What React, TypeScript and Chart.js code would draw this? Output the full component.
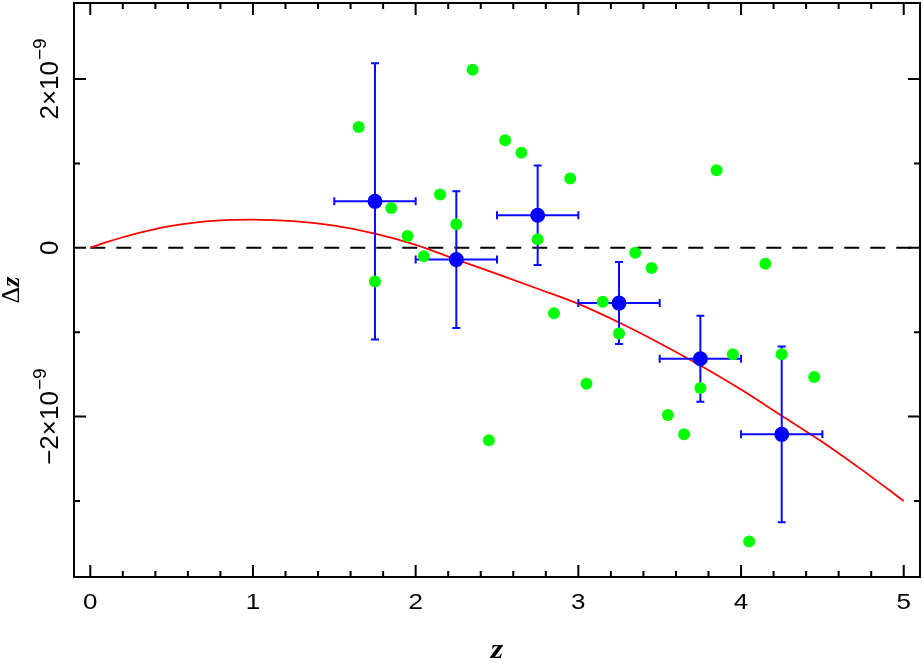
import React, { useEffect, useRef } from 'react';
import { Chart, registerables } from 'chart.js';

Chart.register(...registerables);

// Individual measurements (z, Δz in units of 1e-9)
const greenZ = [1.65, 1.75, 1.85, 1.95, 2.05, 2.15, 2.25, 2.35, 2.45, 2.55, 2.65, 2.75, 2.85, 2.95, 3.05, 3.15, 3.25, 3.35, 3.45, 3.55, 3.65, 3.75, 3.85, 3.95, 4.05, 4.15, 4.25, 4.45];
const greenDz = [1.43, -0.4, 0.47, 0.14, -0.1, 0.63, 0.28, 2.11, -2.28, 1.275, 1.125, 0.1, -0.775, 0.82, -1.61, -0.64, -1.015, -0.06, -0.24, -1.98, -2.21, -1.66, 0.92, -1.26, -3.48, -0.19, -1.26, -1.53];

// Binned averages with error bars
const binZ = [1.75, 2.25, 2.75, 3.25, 3.75, 4.25];
const binDz = [0.55, -0.14, 0.385, -0.655, -1.315, -2.21];
const binDzErr = [1.635, 0.81, 0.59, 0.486, 0.51, 1.04];
const binZErr = [0.25, 0.25, 0.25, 0.25, 0.25, 0.25];

// Model curve
const curveZ = [0, 0.1, 0.2, 0.3, 0.4, 0.5, 0.75, 1, 1.25, 1.5, 1.75, 2, 2.25, 2.5, 2.75, 3, 3.25, 3.5, 3.75, 4, 4.25, 4.5, 4.75, 5];
const curveDz = [0, 0.066, 0.125, 0.177, 0.222, 0.259, 0.318, 0.334, 0.315, 0.262, 0.168, 0.035, -0.139, -0.31, -0.485, -0.665, -0.885, -1.13, -1.395, -1.68, -1.99, -2.3, -2.64, -3.0];

// Zero reference line
const zeroZ = [0, 5.1];
const zeroDz = [0, 0];

// Axes
const xMin = -0.1;
const xMax = 5.1;
const yMin = -3.9;
const yMax = 2.9;
const xMajorTicks = [0, 1, 2, 3, 4, 5];
const xTickLabels = ['0', '1', '2', '3', '4', '5'];
const xMinorTicks = [0.2, 0.4, 0.6, 0.8, 1.2, 1.4, 1.6, 1.8, 2.2, 2.4, 2.6, 2.8, 3.2, 3.4, 3.6, 3.8, 4.2, 4.4, 4.6, 4.8];
const yMajorTicks = [-2, 0, 2];
const yTickBases = ['\u22122\u00d710', '0', '2\u00d710'];
const yTickExps = ['\u22129', '', '\u22129'];
const yMinorTicks = [-3, -1, 1];
const xTitle = 'z';
const yTitleA = '\u0394';
const yTitleB = 'z';

const toXY = (xs: number[], ys: number[]) => xs.map((x, i) => ({ x, y: ys[i] }));

const decorPlugin = {
  id: 'decor',
  beforeDatasetDraw(chart: any, args: any) {
    if (args.index !== 1) return;
    const { ctx } = chart;
    const xs = chart.scales.x;
    const ys = chart.scales.y;
    const cap = 4;
    ctx.save();
    ctx.strokeStyle = '#0a0aff';
    ctx.lineWidth = 2;
    binZ.forEach((z, i) => {
      const px = xs.getPixelForValue(z);
      const py = ys.getPixelForValue(binDz[i]);
      const yTop = ys.getPixelForValue(binDz[i] + binDzErr[i]);
      const yBot = ys.getPixelForValue(binDz[i] - binDzErr[i]);
      const xL = xs.getPixelForValue(z - binZErr[i]);
      const xR = xs.getPixelForValue(z + binZErr[i]);
      ctx.beginPath();
      ctx.moveTo(px, yTop); ctx.lineTo(px, yBot);
      ctx.moveTo(px - cap, yTop); ctx.lineTo(px + cap, yTop);
      ctx.moveTo(px - cap, yBot); ctx.lineTo(px + cap, yBot);
      ctx.moveTo(xL, py); ctx.lineTo(xR, py);
      ctx.moveTo(xL, py - cap); ctx.lineTo(xL, py + cap);
      ctx.moveTo(xR, py - cap); ctx.lineTo(xR, py + cap);
      ctx.stroke();
    });
    ctx.restore();
  },
  afterDraw(chart: any) {
    const { ctx, chartArea: a } = chart;
    const xs = chart.scales.x;
    const ys = chart.scales.y;
    ctx.save();
    ctx.strokeStyle = '#000';
    ctx.lineWidth = 2;
    ctx.strokeRect(a.left, a.top, a.right - a.left, a.bottom - a.top);
    ctx.beginPath();
    const major = 12;
    const minor = 6;
    xMajorTicks.forEach((v) => {
      const p = xs.getPixelForValue(v);
      ctx.moveTo(p, a.bottom); ctx.lineTo(p, a.bottom - major);
      ctx.moveTo(p, a.top); ctx.lineTo(p, a.top + major);
    });
    xMinorTicks.forEach((v) => {
      const p = xs.getPixelForValue(v);
      ctx.moveTo(p, a.bottom); ctx.lineTo(p, a.bottom - minor);
      ctx.moveTo(p, a.top); ctx.lineTo(p, a.top + minor);
    });
    yMajorTicks.forEach((v) => {
      const p = ys.getPixelForValue(v);
      ctx.moveTo(a.left, p); ctx.lineTo(a.left + major, p);
      ctx.moveTo(a.right, p); ctx.lineTo(a.right - major, p);
    });
    yMinorTicks.forEach((v) => {
      const p = ys.getPixelForValue(v);
      ctx.moveTo(a.left, p); ctx.lineTo(a.left + minor, p);
      ctx.moveTo(a.right, p); ctx.lineTo(a.right - minor, p);
    });
    ctx.stroke();

    ctx.fillStyle = '#000';
    // x tick labels
    ctx.font = '26px "Liberation Sans", Arial, sans-serif';
    ctx.textAlign = 'center';
    ctx.textBaseline = 'alphabetic';
    xMajorTicks.forEach((v, i) => {
      const p = xs.getPixelForValue(v);
      ctx.save();
      ctx.translate(p, 609);
      ctx.scale(1, 0.84);
      ctx.fillText(xTickLabels[i], 0, 0);
      ctx.restore();
    });
    // y tick labels (rotated)
    yMajorTicks.forEach((v, i) => {
      const p = ys.getPixelForValue(v);
      ctx.save();
      ctx.translate(58, p);
      ctx.rotate(-Math.PI / 2);
      ctx.textAlign = 'left';
      ctx.font = '26px "Liberation Sans", Arial, sans-serif';
      const wb = ctx.measureText(yTickBases[i]).width;
      ctx.font = '19px "Liberation Sans", Arial, sans-serif';
      const we = yTickExps[i] ? ctx.measureText(yTickExps[i]).width + 1 : 0;
      const start = -(wb + we) / 2;
      ctx.font = '26px "Liberation Sans", Arial, sans-serif';
      ctx.fillText(yTickBases[i], start, 0);
      if (yTickExps[i]) {
        ctx.font = '19px "Liberation Sans", Arial, sans-serif';
        ctx.fillText(yTickExps[i], start + wb + 1, -12);
      }
      ctx.restore();
    });
    // y title
    ctx.save();
    ctx.translate(19, (a.top + a.bottom) / 2);
    ctx.rotate(-Math.PI / 2);
    ctx.textAlign = 'left';
    ctx.font = '26px "Liberation Serif", serif';
    const wA = ctx.measureText(yTitleA).width;
    ctx.font = 'italic bold 26px "Liberation Serif", serif';
    const wB = ctx.measureText(yTitleB).width;
    const s = -(wA + wB) / 2;
    ctx.font = '26px "Liberation Serif", serif';
    ctx.fillText(yTitleA, s, 0);
    ctx.font = 'italic bold 26px "Liberation Serif", serif';
    ctx.fillText(yTitleB, s + wA, 0);
    ctx.restore();
    // x title
    ctx.save();
    ctx.translate((a.left + a.right) / 2, 658);
    ctx.scale(1, 0.84);
    ctx.textAlign = 'center';
    ctx.font = 'italic bold 32px "Liberation Serif", serif';
    ctx.fillText(xTitle, 0, 0);
    ctx.restore();
    ctx.restore();
  },
};

export default function App() {
  const ref = useRef<HTMLCanvasElement | null>(null);
  useEffect(() => {
    document.body.style.margin = '0';
    if (!ref.current) return;
    const chart = new Chart(ref.current, {
      type: 'scatter',
      data: {
        datasets: [
          {
            label: 'binned',
            data: toXY(binZ, binDz),
            pointRadius: 7.5,
            pointBackgroundColor: '#0000ff',
            pointBorderWidth: 0,
            showLine: false,
          },
          {
            label: 'points',
            data: toXY(greenZ, greenDz),
            pointRadius: 6,
            pointBackgroundColor: '#00ff00',
            pointBorderWidth: 0,
            showLine: false,
          },
          {
            label: 'model',
            data: toXY(curveZ, curveDz),
            showLine: true,
            borderColor: '#ff0000',
            borderWidth: 1.8,
            pointRadius: 0,
            cubicInterpolationMode: 'monotone',
          },
          {
            label: 'zero',
            data: toXY(zeroZ, zeroDz),
            showLine: true,
            borderColor: '#000',
            borderWidth: 2,
            borderDash: [15, 11],
            pointRadius: 0,
          },
        ],
      },
      options: {
        responsive: false,
        animation: false,
        devicePixelRatio: 1,
        layout: { autoPadding: false, padding: { left: 74, right: 4, top: 3, bottom: 87 } },
        plugins: { legend: { display: false }, tooltip: { enabled: false } },
        scales: {
          x: { type: 'linear', min: xMin, max: xMax, display: false },
          y: { type: 'linear', min: yMin, max: yMax, display: false },
        },
      },
      plugins: [decorPlugin],
    });
    return () => chart.destroy();
  }, []);
  return (
    <div style={{ position: 'absolute', left: 0, top: 0, width: 924, height: 664, background: '#fff' }}>
      <canvas ref={ref} width={924} height={664} style={{ display: 'block' }} />
    </div>
  );
}
